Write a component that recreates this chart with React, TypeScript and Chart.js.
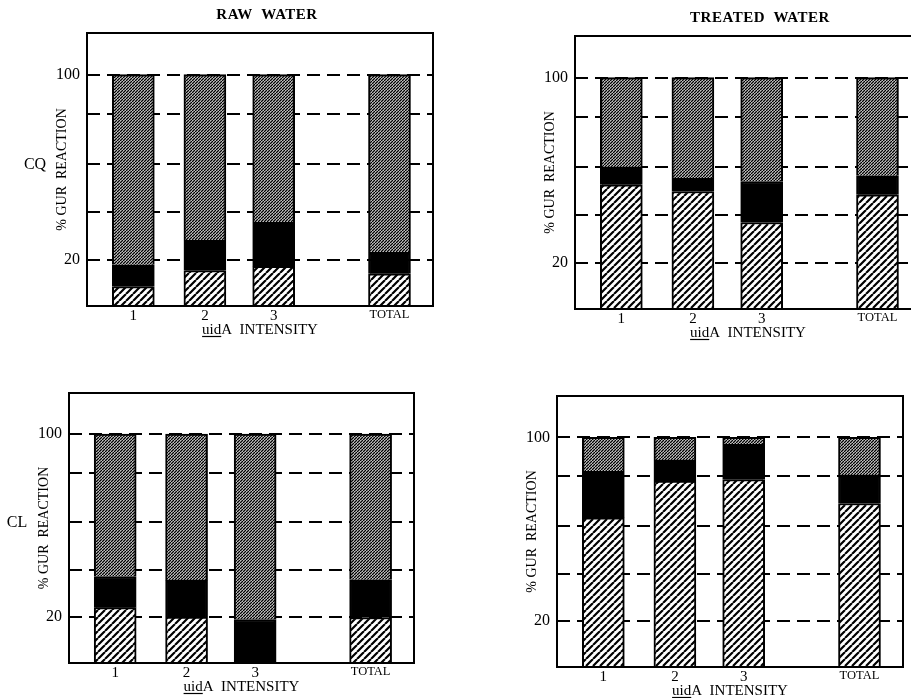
import React, { useEffect, useRef } from 'react';
import { Chart, registerables } from 'chart.js';

Chart.register(...registerables);

// ---------- data ----------
const CATEGORIES = ['1', '2', '3', 'TOTAL'];
const X_POSITIONS = [1, 2.02, 3, 4.65];
const Y_GRID = [20, 40.5, 61.5, 83, 100];
const Y_LABELLED = [20, 100];

// RAW WATER, CQ
const RAW_CQ_LOW = [8.4, 15.3, 17.1, 13.9];
const RAW_CQ_MID = [9.4, 13.1, 19.1, 9.3];
const RAW_CQ_HIGH = [82.2, 71.6, 63.8, 76.8];

// TREATED WATER, CQ
const TREATED_CQ_LOW = [53.7, 50.8, 37.4, 49.4];
const TREATED_CQ_MID = [7.6, 5.8, 17.7, 8.2];
const TREATED_CQ_HIGH = [38.7, 43.4, 44.9, 42.4];

// RAW WATER, CL
const RAW_CL_LOW = [24.2, 20.1, 0, 19.9];
const RAW_CL_MID = [13.6, 16.0, 19.0, 16.5];
const RAW_CL_HIGH = [62.2, 63.9, 81.0, 63.6];

// TREATED WATER, CL
const TREATED_CL_LOW = [64.9, 81.0, 81.6, 71.2];
const TREATED_CL_MID = [20.3, 9.0, 15.4, 12.3];
const TREATED_CL_HIGH = [14.8, 10.0, 3.0, 16.5];

const FONT = '"Liberation Serif", "Times New Roman", serif';

type Box = { x: number; y: number; w: number; h: number };
type Area = { left: number; right: number; top: number; bottom: number };
type PanelCfg = {
  title: string;
  side: string;
  low: number[];
  mid: number[];
  high: number[];
  box: Box;
  area: Area;
  titleDx: number;
  titleGap: number;
};

const PANELS: PanelCfg[] = [
  {
    title: 'RAW  WATER', side: 'CQ',
    low: RAW_CQ_LOW, mid: RAW_CQ_MID, high: RAW_CQ_HIGH,
    box: { x: 0, y: 0, w: 455, h: 345 },
    area: { left: 87, right: 433, top: 33, bottom: 306 },
    titleDx: 7, titleGap: 18,
  },
  {
    title: 'TREATED  WATER', side: '',
    low: TREATED_CQ_LOW, mid: TREATED_CQ_MID, high: TREATED_CQ_HIGH,
    box: { x: 460, y: 0, w: 480, h: 345 },
    area: { left: 575, right: 921, top: 36, bottom: 309 },
    titleDx: 12, titleGap: 18,
  },
  {
    title: '', side: 'CL',
    low: RAW_CL_LOW, mid: RAW_CL_MID, high: RAW_CL_HIGH,
    box: { x: 0, y: 365, w: 455, h: 333 },
    area: { left: 69, right: 414, top: 393, bottom: 663 },
    titleDx: 0, titleGap: 18,
  },
  {
    title: '', side: '',
    low: TREATED_CL_LOW, mid: TREATED_CL_MID, high: TREATED_CL_HIGH,
    box: { x: 460, y: 365, w: 451, h: 333 },
    area: { left: 557, right: 903, top: 396, bottom: 667 },
    titleDx: 0, titleGap: 18,
  },
];

function makeHatch(ctx: CanvasRenderingContext2D, size: number, lw: number) {
  const c = document.createElement('canvas');
  c.width = size;
  c.height = size;
  const g = c.getContext('2d')!;
  g.fillStyle = '#fff';
  g.fillRect(0, 0, size, size);
  g.strokeStyle = '#000';
  g.lineWidth = lw;
  g.beginPath();
  for (const o of [-size, 0, size]) {
    g.moveTo(o, size);
    g.lineTo(o + size, 0);
  }
  g.stroke();
  return ctx.createPattern(c, 'repeat')!;
}

const extrasPlugin = {
  id: 'extras',
  afterDraw(chart: any, _args: any, opts: any) {
    const { ctx, chartArea: a } = chart;
    ctx.save();
    ctx.strokeStyle = '#000';
    ctx.lineWidth = 2;
    ctx.strokeRect(a.left, a.top, a.right - a.left, a.bottom - a.top);
    ctx.fillStyle = '#000';
    ctx.textAlign = 'center';
    ctx.textBaseline = 'middle';
    const cx = (a.left + a.right) / 2;
    const cy = (a.top + a.bottom) / 2;
    if (opts.title) {
      ctx.font = `bold 15px ${FONT}`;
      (ctx as any).letterSpacing = '0.5px';
      ctx.fillText(opts.title, cx + opts.titleDx, a.top - opts.titleGap);
      (ctx as any).letterSpacing = '0px';
    }
    ctx.save();
    ctx.translate(a.left - 25, cy);
    ctx.rotate(-Math.PI / 2);
    ctx.font = `14px ${FONT}`;
    ctx.fillText('% GUR  REACTION', 0, 0);
    ctx.restore();
    if (opts.side) {
      ctx.font = `16px ${FONT}`;
      ctx.fillText(opts.side, a.left - 52, cy - 5);
    }
    ctx.font = `15px ${FONT}`;
    const p1 = 'uid';
    const p2 = 'A  INTENSITY';
    const w1 = ctx.measureText(p1).width;
    const w2 = ctx.measureText(p2).width;
    const x0 = cx - (w1 + w2) / 2;
    const y = a.bottom + 24;
    ctx.textAlign = 'left';
    ctx.fillText(p1, x0, y);
    ctx.fillText(p2, x0 + w1, y);
    ctx.lineWidth = 1.2;
    ctx.beginPath();
    ctx.moveTo(x0, y + 6.5);
    ctx.lineTo(x0 + w1, y + 6.5);
    ctx.stroke();
    ctx.restore();
  },
};

function Panel({ cfg }: { cfg: PanelCfg }) {
  const ref = useRef<HTMLCanvasElement>(null);
  useEffect(() => {
    const canvas = ref.current!;
    const ctx = canvas.getContext('2d')!;
    const light = makeHatch(ctx, 7, 2.2);
    const dense = makeHatch(ctx, 3, 1.45);
    const { box, area } = cfg;
    const yW = area.left - box.x;
    const xH = box.y + box.h - area.bottom;
    const pad = { left: 0, right: box.x + box.w - area.right, top: area.top - box.y, bottom: 0 };
    const toPts = (arr: number[]) => arr.map((v, i) => ({ x: X_POSITIONS[i], y: v }));
    const common = {
      stack: 'a',
      borderColor: '#000',
      borderWidth: 2,
      borderSkipped: 'start',
      barThickness: 42,
    };
    const chart = new Chart(canvas, {
      type: 'bar',
      data: {
        datasets: [
          { ...common, label: 'low', data: toPts(cfg.low), backgroundColor: light },
          { ...common, label: 'mid', data: toPts(cfg.mid), backgroundColor: '#000' },
          { ...common, label: 'high', data: toPts(cfg.high), backgroundColor: dense },
        ] as any,
      },
      options: {
        animation: false,
        responsive: false,
        maintainAspectRatio: false,
        layout: { padding: pad },
        plugins: {
          legend: { display: false },
          tooltip: { enabled: false },
          extras: { title: cfg.title, side: cfg.side, titleDx: cfg.titleDx, titleGap: cfg.titleGap },
        } as any,
        scales: {
          x: {
            type: 'linear',
            offset: false,
            min: 0.34,
            max: 5.27,
            afterFit: (s: any) => { s.height = xH; },
            afterBuildTicks: (s: any) => { s.ticks = X_POSITIONS.map((v) => ({ value: v })); },
            ticks: {
              autoSkip: false,
              maxRotation: 0,
              padding: 1,
              color: '#000',
              callback: (v: any) => {
                const i = X_POSITIONS.indexOf(Number(v));
                return i >= 0 ? CATEGORIES[i] : '';
              },
              font: (c: any) => ({
                family: FONT,
                size: c.tick && c.tick.value === X_POSITIONS[3] ? 12.5 : 15,
              }),
            },
            grid: { display: false, drawTicks: false, offset: false },
            border: { display: false },
          },
          y: {
            min: 0,
            max: 118,
            stacked: true,
            afterFit: (s: any) => { s.width = yW; },
            afterBuildTicks: (s: any) => { s.ticks = Y_GRID.map((v) => ({ value: v })); },
            ticks: {
              padding: 7,
              color: '#000',
              font: { family: FONT, size: 16 },
              callback: (v: any) => (Y_LABELLED.includes(Number(v)) ? String(v) : ''),
            },
            grid: { color: '#000', lineWidth: 2, drawTicks: false },
            border: { display: false, dash: [13, 7] },
          },
        } as any,
      },
      plugins: [extrasPlugin],
    });
    return () => chart.destroy();
  }, [cfg]);
  return (
    <canvas
      ref={ref}
      width={cfg.box.w}
      height={cfg.box.h}
      style={{ position: 'absolute', left: cfg.box.x, top: cfg.box.y, width: cfg.box.w, height: cfg.box.h }}
    />
  );
}

export default function App() {
  return (
    <div
      style={{
        position: 'fixed',
        left: 0,
        top: 0,
        width: 911,
        height: 698,
        overflow: 'hidden',
        background: '#fff',
      }}
    >
      {PANELS.map((p, i) => (
        <Panel key={i} cfg={p} />
      ))}
    </div>
  );
}
